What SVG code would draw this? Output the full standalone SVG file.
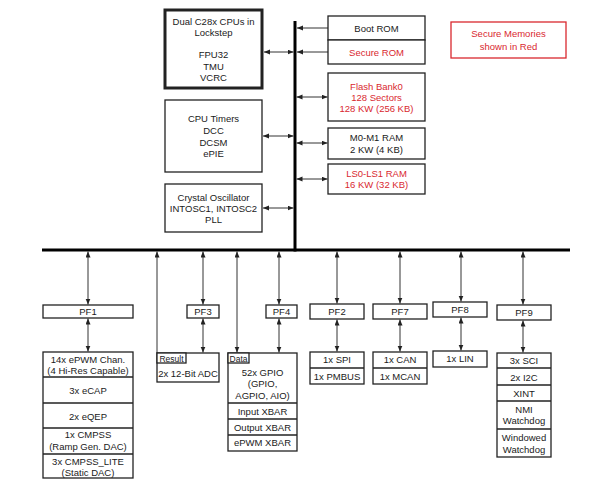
<svg xmlns="http://www.w3.org/2000/svg" width="600" height="491" viewBox="0 0 600 491">
<style>
.box{fill:#fff;stroke:#222;stroke-width:1.3}
.thick{stroke-width:3}
.redbox{fill:#fff;stroke:#d9282f;stroke-width:1.3}
.t{font-family:"Liberation Sans",Arial,sans-serif;font-size:9.5px;fill:#1a1a1a;text-anchor:middle}
.s{font-size:8.5px}
.red{fill:#d9282f}
.c{stroke:#333;stroke-width:1;fill:none}
.bus{stroke:#000;stroke-width:3;fill:none}
.div{stroke:#222;stroke-width:1.3}
</style>
<defs>
<marker id="ah" markerUnits="userSpaceOnUse" markerWidth="7" markerHeight="6" refX="6" refY="2.5" orient="auto-start-reverse">
<path d="M0,0 L6,2.5 L0,5 z" fill="#222"/>
</marker>
</defs>

<g id="connectors">
<line class="bus" x1="295" y1="21" x2="295" y2="251.5"/>
<line class="bus" x1="42" y1="250" x2="570" y2="250"/>
<line class="c" x1="328" y1="28" x2="297" y2="28" marker-end="url(#ah)"/>
<line class="c" x1="328" y1="52" x2="297" y2="52" marker-end="url(#ah)"/>
<line class="c" x1="264" y1="52" x2="293.5" y2="52" marker-start="url(#ah)" marker-end="url(#ah)"/>
<line class="c" x1="263" y1="136" x2="293.5" y2="136" marker-start="url(#ah)" marker-end="url(#ah)"/>
<line class="c" x1="263" y1="208" x2="293.5" y2="208" marker-start="url(#ah)" marker-end="url(#ah)"/>
<line class="c" x1="296.5" y1="97" x2="327.5" y2="97" marker-start="url(#ah)" marker-end="url(#ah)"/>
<line class="c" x1="296.5" y1="143" x2="327.5" y2="143" marker-start="url(#ah)" marker-end="url(#ah)"/>
<line class="c" x1="296.5" y1="179" x2="327.5" y2="179" marker-start="url(#ah)" marker-end="url(#ah)"/>

<line class="c" x1="88" y1="251.5" x2="88" y2="304.5" marker-start="url(#ah)" marker-end="url(#ah)"/>
<line class="c" x1="88" y1="318.5" x2="88" y2="351.5" marker-start="url(#ah)" marker-end="url(#ah)"/>
<line class="c" x1="157" y1="251.5" x2="157" y2="353" marker-start="url(#ah)"/>
<line class="c" x1="203" y1="251.5" x2="203" y2="304.5" marker-start="url(#ah)" marker-end="url(#ah)"/>
<line class="c" x1="203" y1="318.5" x2="203" y2="352.5" marker-start="url(#ah)" marker-end="url(#ah)"/>
<line class="c" x1="237" y1="251.5" x2="237" y2="352.5" marker-start="url(#ah)" marker-end="url(#ah)"/>
<line class="c" x1="279" y1="251.5" x2="279" y2="304.5" marker-start="url(#ah)" marker-end="url(#ah)"/>
<line class="c" x1="279" y1="318.5" x2="279" y2="352.5" marker-start="url(#ah)" marker-end="url(#ah)"/>
<line class="c" x1="337" y1="251.5" x2="337" y2="303.5" marker-start="url(#ah)" marker-end="url(#ah)"/>
<line class="c" x1="337" y1="319.5" x2="337" y2="351.5" marker-start="url(#ah)" marker-end="url(#ah)"/>
<line class="c" x1="400" y1="251.5" x2="400" y2="303.5" marker-start="url(#ah)" marker-end="url(#ah)"/>
<line class="c" x1="400" y1="319.5" x2="400" y2="351.5" marker-start="url(#ah)" marker-end="url(#ah)"/>
<line class="c" x1="461" y1="251.5" x2="461" y2="301.5" marker-start="url(#ah)" marker-end="url(#ah)"/>
<line class="c" x1="461" y1="317.5" x2="461" y2="350.5" marker-start="url(#ah)" marker-end="url(#ah)"/>
<line class="c" x1="523" y1="251.5" x2="523" y2="304.5" marker-start="url(#ah)" marker-end="url(#ah)"/>
<line class="c" x1="523" y1="320.5" x2="523" y2="352.5" marker-start="url(#ah)" marker-end="url(#ah)"/>
</g>

<g id="cpu">
<rect class="box thick" x="165" y="10" width="97" height="78"/>
<text class="t" x="213.5" y="25">Dual C28x CPUs in</text>
<text class="t" x="213.5" y="36">Lockstep</text>
<text class="t" x="213.5" y="58">FPU32</text>
<text class="t" x="213.5" y="70">TMU</text>
<text class="t" x="213.5" y="81">VCRC</text>
</g>
<g id="timers">
<rect class="box" x="165" y="100" width="97" height="72"/>
<text class="t" x="213.5" y="122">CPU Timers</text>
<text class="t" x="213.5" y="134">DCC</text>
<text class="t" x="213.5" y="146">DCSM</text>
<text class="t" x="213.5" y="157">ePIE</text>
</g>
<g id="crystal">
<rect class="box" x="165" y="184" width="97" height="48"/>
<text class="t" x="213.5" y="201">Crystal Oscillator</text>
<text class="t" x="213.5" y="212">INTOSC1, INTOSC2</text>
<text class="t" x="213.5" y="223">PLL</text>
</g>
<g id="bootrom">
<rect class="box" x="328" y="16" width="97" height="24"/>
<text class="t" x="376.5" y="31.5">Boot ROM</text>
</g>
<g id="securerom">
<rect class="box" x="328" y="40" width="97" height="24"/>
<text class="t red" x="376.5" y="55.5">Secure ROM</text>
</g>
<g id="flash">
<rect class="box" x="328" y="73" width="97" height="48"/>
<text class="t red" x="376.5" y="89.5">Flash Bank0</text>
<text class="t red" x="376.5" y="100.5">128 Sectors</text>
<text class="t red" x="376.5" y="111.5">128 KW (256 KB)</text>
</g>
<g id="m0m1">
<rect class="box" x="328" y="128" width="97" height="31"/>
<text class="t" x="376.5" y="140.5">M0-M1 RAM</text>
<text class="t" x="376.5" y="152.5">2 KW (4 KB)</text>
</g>
<g id="ls0ls1">
<rect class="box" x="328" y="164" width="97" height="30"/>
<text class="t red" x="376.5" y="176.5">LS0-LS1 RAM</text>
<text class="t red" x="376.5" y="187.5">16 KW (32 KB)</text>
</g>
<g id="legend">
<rect class="redbox" x="451" y="22" width="115" height="36"/>
<text class="t red" x="508.5" y="36.5">Secure Memories</text>
<text class="t red" x="508.5" y="49.5">shown in Red</text>
</g>

<g id="pf1">
<rect class="box" x="43" y="305" width="90" height="13"/>
<text class="t" x="88" y="314.5">PF1</text>
</g>
<g id="epwm">
<rect class="box" x="43" y="352" width="90" height="126"/>
<line class="div" x1="43" y1="377" x2="133" y2="377"/>
<line class="div" x1="43" y1="403" x2="133" y2="403"/>
<line class="div" x1="43" y1="428" x2="133" y2="428"/>
<line class="div" x1="43" y1="454" x2="133" y2="454"/>
<text class="t" x="88" y="362.5">14x ePWM Chan.</text>
<text class="t" x="88" y="374">(4 Hi-Res Capable)</text>
<text class="t" x="88" y="394">3x eCAP</text>
<text class="t" x="88" y="420">2x eQEP</text>
<text class="t" x="88" y="437.5">1x CMPSS</text>
<text class="t" x="88" y="450">(Ramp Gen. DAC)</text>
<text class="t" x="88" y="464.5">3x CMPSS_LITE</text>
<text class="t" x="88" y="475.5">(Static DAC)</text>
</g>
<g id="adc">
<rect class="box" x="157" y="353" width="62" height="29"/>
<rect class="box" x="157" y="353" width="29" height="10"/>
<text class="t s" x="171.5" y="361.5">Result</text>
<text class="t" x="188" y="376.5">2x 12-Bit ADC</text>
</g>
<g id="pf3">
<rect class="box" x="187" y="305" width="32" height="13"/>
<text class="t" x="203" y="314.5">PF3</text>
</g>
<g id="gpio">
<rect class="box" x="228" y="353" width="69" height="98"/>
<rect class="box" x="228" y="353" width="21" height="10"/>
<line class="div" x1="228" y1="403" x2="297" y2="403"/>
<line class="div" x1="228" y1="419" x2="297" y2="419"/>
<line class="div" x1="228" y1="435" x2="297" y2="435"/>
<text class="t s" x="238.5" y="361.5">Data</text>
<text class="t" x="262.5" y="375.5">52x GPIO</text>
<text class="t" x="262.5" y="387">(GPIO,</text>
<text class="t" x="262.5" y="398.5">AGPIO, AIO)</text>
<text class="t" x="262.5" y="414.5">Input XBAR</text>
<text class="t" x="262.5" y="430.5">Output XBAR</text>
<text class="t" x="262.5" y="446">ePWM XBAR</text>
</g>
<g id="pf4">
<rect class="box" x="266" y="305" width="31" height="13"/>
<text class="t" x="281.5" y="314.5">PF4</text>
</g>
<g id="pf2">
<rect class="box" x="310" y="304" width="54" height="15"/>
<text class="t" x="337" y="314.5">PF2</text>
</g>
<g id="spi">
<rect class="box" x="310" y="352" width="54" height="32"/>
<line class="div" x1="310" y1="368" x2="364" y2="368"/>
<text class="t" x="337" y="363">1x SPI</text>
<text class="t" x="337" y="379.5">1x PMBUS</text>
</g>
<g id="pf7">
<rect class="box" x="373" y="304" width="54" height="15"/>
<text class="t" x="400" y="314.5">PF7</text>
</g>
<g id="can">
<rect class="box" x="373" y="352" width="54" height="32"/>
<line class="div" x1="373" y1="368" x2="427" y2="368"/>
<text class="t" x="400" y="363">1x CAN</text>
<text class="t" x="400" y="379.5">1x MCAN</text>
</g>
<g id="pf8">
<rect class="box" x="433" y="302" width="54" height="15"/>
<text class="t" x="460" y="312.5">PF8</text>
</g>
<g id="lin">
<rect class="box" x="433" y="351" width="54" height="16"/>
<text class="t" x="460" y="362">1x LIN</text>
</g>
<g id="pf9">
<rect class="box" x="497" y="305" width="54" height="15"/>
<text class="t" x="524" y="315.5">PF9</text>
</g>
<g id="sci">
<rect class="box" x="497" y="353" width="54" height="104"/>
<line class="div" x1="497" y1="368" x2="551" y2="368"/>
<line class="div" x1="497" y1="385" x2="551" y2="385"/>
<line class="div" x1="497" y1="401" x2="551" y2="401"/>
<line class="div" x1="497" y1="429" x2="551" y2="429"/>
<text class="t" x="524" y="364">3x SCI</text>
<text class="t" x="524" y="380.5">2x I2C</text>
<text class="t" x="524" y="396.5">XINT</text>
<text class="t" x="524" y="412.5">NMI</text>
<text class="t" x="524" y="424">Watchdog</text>
<text class="t" x="524" y="441">Windowed</text>
<text class="t" x="524" y="452.5">Watchdog</text>
</g>
</svg>
